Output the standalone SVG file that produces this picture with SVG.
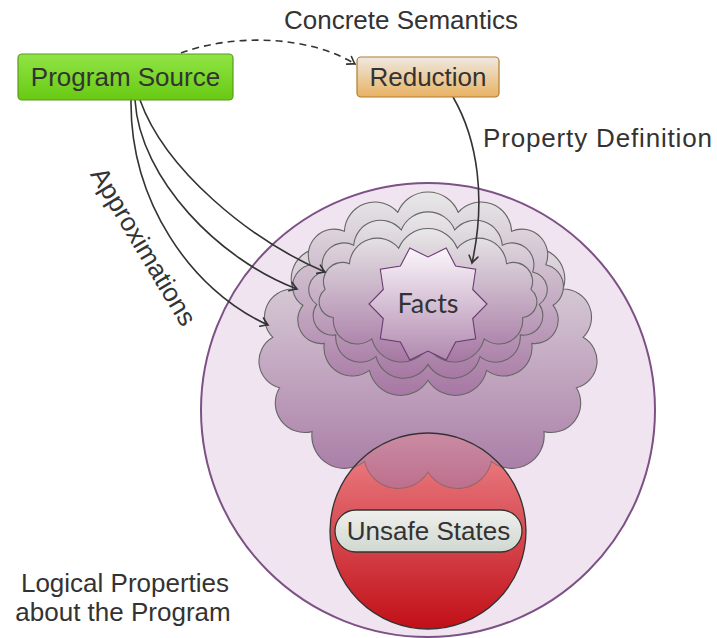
<svg xmlns="http://www.w3.org/2000/svg" width="717" height="638" viewBox="0 0 717 638">
<defs>
<linearGradient id="gCloud" x1="0" y1="0" x2="0" y2="1"><stop offset="0" stop-color="#e8e8e8"/><stop offset="1" stop-color="#a677a3"/></linearGradient>
<linearGradient id="gStar" x1="0" y1="0" x2="0" y2="1"><stop offset="0" stop-color="#fbf6fb"/><stop offset="1" stop-color="#b089ae"/></linearGradient>
<linearGradient id="gRed" x1="0" y1="0" x2="0" y2="1"><stop offset="0" stop-color="#ee888e"/><stop offset="1" stop-color="#c20f17"/></linearGradient>
<linearGradient id="gPill" x1="0" y1="0" x2="0" y2="1"><stop offset="0" stop-color="#efefed"/><stop offset="1" stop-color="#d0d8d0"/></linearGradient>
<linearGradient id="gGreen" x1="0" y1="0" x2="0" y2="1"><stop offset="0" stop-color="#90e545"/><stop offset="1" stop-color="#68c912"/></linearGradient>
<linearGradient id="gOrange" x1="0" y1="0" x2="0" y2="1"><stop offset="0" stop-color="#efe9e2"/><stop offset="1" stop-color="#e8b262"/></linearGradient>
<clipPath id="clipRed"><circle cx="428" cy="531" r="98"/></clipPath>
<marker id="arr" viewBox="-10 -7 12 14" refX="0" refY="0" markerWidth="12" markerHeight="14" orient="auto" markerUnits="userSpaceOnUse"><path d="M-7,-4.5 Q-2,-1 0,0 Q-2,1 -7,4.5" fill="none" stroke="#333" stroke-width="1.6" stroke-linecap="round"/></marker>
<path id="cloudA" d="M428,472 A34.7,34.7 0 0 1 364.6,461.4 A32.6,32.6 0 0 1 312.1,431.6 A29.5,29.5 0 0 1 279.6,387.7 A27.4,27.4 0 0 1 272.9,337.3 A28.2,28.2 0 0 1 292.9,289 A31,31 0 0 1 336.3,251.3 A33.9,33.9 0 0 1 395.6,230.7 A35,35 0 0 1 460.4,230.7 A33.9,33.9 0 0 1 519.7,251.3 A31,31 0 0 1 563.1,289 A28.2,28.2 0 0 1 583.1,337.3 A27.4,27.4 0 0 1 576.4,387.7 A29.5,29.5 0 0 1 543.9,431.6 A32.6,32.6 0 0 1 491.4,461.4 A34.7,34.7 0 0 1 428,472 Z"/>
</defs>
<style>
.lbl{font-family:"Liberation Sans",Arial,sans-serif;font-size:26px;fill:#333;}
.cloud{fill:url(#gCloud);stroke:#666;stroke-width:1.1;}
.edge{fill:none;stroke:#333;stroke-width:1.6;}
</style>
<g id="logical-properties">
<circle cx="428" cy="410" r="227" fill="#efe4ef" stroke="#7d5186" stroke-width="2"/>
<text class="lbl" x="125" y="592" text-anchor="middle">Logical Properties</text>
<text class="lbl" x="123" y="621" text-anchor="middle">about the Program</text>
</g>
<g id="cloud-outer">
<use href="#cloudA" class="cloud"/>
</g>
<g id="unsafe-states">
<circle cx="428" cy="531" r="98" fill="url(#gRed)"/>
<use href="#cloudA" class="cloud" clip-path="url(#clipRed)" opacity="0.6"/>
<circle cx="428" cy="531" r="98" fill="none" stroke="#333" stroke-width="1.3"/>
<rect x="335" y="510" width="187" height="42" rx="21" fill="url(#gPill)" stroke="#333" stroke-width="1.3"/>
<text class="lbl" x="428.5" y="540" text-anchor="middle">Unsafe States</text>
</g>
<g id="cloud-b">
<path class="cloud" d="M428,380.2 A32.1,32.1 0 0 1 369.4,370.4 A28.4,28.4 0 0 1 324.3,343.4 A23.6,23.6 0 0 1 302.9,305.3 A22.2,22.2 0 0 1 310.2,264.8 A25.9,25.9 0 0 1 344.4,231.2 A30.6,30.6 0 0 1 397.8,212.3 A32.6,32.6 0 0 1 458.2,212.3 A30.6,30.6 0 0 1 511.6,231.2 A25.9,25.9 0 0 1 545.8,264.8 A22.2,22.2 0 0 1 553.1,305.3 A23.6,23.6 0 0 1 531.7,343.4 A28.4,28.4 0 0 1 486.6,370.4 A32.1,32.1 0 0 1 428,380.2 Z"/>
</g>
<g id="cloud-c">
<path class="cloud" d="M428,364.4 A28.4,28.4 0 0 1 376,356.6 A24.7,24.7 0 0 1 335.8,334.9 A19.4,19.4 0 0 1 316.8,304.4 A17.8,17.8 0 0 1 323.3,272 A21.9,21.9 0 0 1 353.7,245.2 A26.9,26.9 0 0 1 401.2,230 A28.9,28.9 0 0 1 454.8,230 A26.9,26.9 0 0 1 502.3,245.2 A21.9,21.9 0 0 1 532.7,272 A17.8,17.8 0 0 1 539.2,304.4 A19.4,19.4 0 0 1 520.2,334.9 A24.7,24.7 0 0 1 480,356.6 A28.4,28.4 0 0 1 428,364.4 Z"/>
</g>
<g id="cloud-d">
<path class="cloud" d="M428,346.9 A30.7,30.7 0 0 1 371.8,338.9 A23.8,23.8 0 0 1 333.4,317.5 A15.8,15.8 0 0 1 325.1,289.4 A19.1,19.1 0 0 1 349.4,263.7 A27.9,27.9 0 0 1 398.7,248.3 A31.6,31.6 0 0 1 457.3,248.3 A27.9,27.9 0 0 1 506.6,263.7 A19.1,19.1 0 0 1 530.9,289.4 A15.8,15.8 0 0 1 522.6,317.5 A23.8,23.8 0 0 1 484.2,338.9 A30.7,30.7 0 0 1 428,346.9 Z"/>
</g>
<g id="facts">
<polygon points="487,304 472.7,289.5 475.7,269.3 455.6,266 446.2,247.9 428,257 409.8,247.9 400.4,266 380.3,269.3 383.3,289.5 369,304 383.3,318.5 380.3,338.7 400.4,342 409.8,360.1 428,351 446.2,360.1 455.6,342 475.7,338.7 472.7,318.5" fill="url(#gStar)" stroke="#6b3a72" stroke-width="1.1"/>
<text x="428" y="313" text-anchor="middle" style="font-family:Lato,'Liberation Sans',sans-serif;font-size:27px;fill:#333">Facts</text>
</g>
<g id="connectors">
<path class="edge" d="M181,53 C235,33 310,36 355,64" stroke-dasharray="7,5" marker-end="url(#arr)"/>
<path class="edge" d="M453,97 C478,140 486,200 472,263" marker-end="url(#arr)"/>
<path class="edge" d="M131,100 C130,200 190,290 268,325" marker-end="url(#arr)"/>
<path class="edge" d="M135,100 C140,180 220,260 297,289" marker-end="url(#arr)"/>
<path class="edge" d="M140,100 C165,170 250,240 325,272" marker-end="url(#arr)"/>
<text class="lbl" x="401" y="29" text-anchor="middle">Concrete Semantics</text>
<text class="lbl" x="483" y="147" textLength="229" lengthAdjust="spacing">Property Definition</text>
<text class="lbl" transform="translate(136,251) rotate(59)" text-anchor="middle">Approximations</text>
</g>
<g id="program-source">
<rect x="18" y="54" width="215" height="46" rx="4" fill="url(#gGreen)" stroke="#5a9a20" stroke-width="1.2"/>
<text class="lbl" x="125.5" y="85.5" text-anchor="middle">Program Source</text>
</g>
<g id="reduction">
<rect x="357" y="57" width="142" height="40" rx="4" fill="url(#gOrange)" stroke="#b07c2c" stroke-width="1.2"/>
<text class="lbl" x="428" y="86" text-anchor="middle">Reduction</text>
</g>
</svg>
